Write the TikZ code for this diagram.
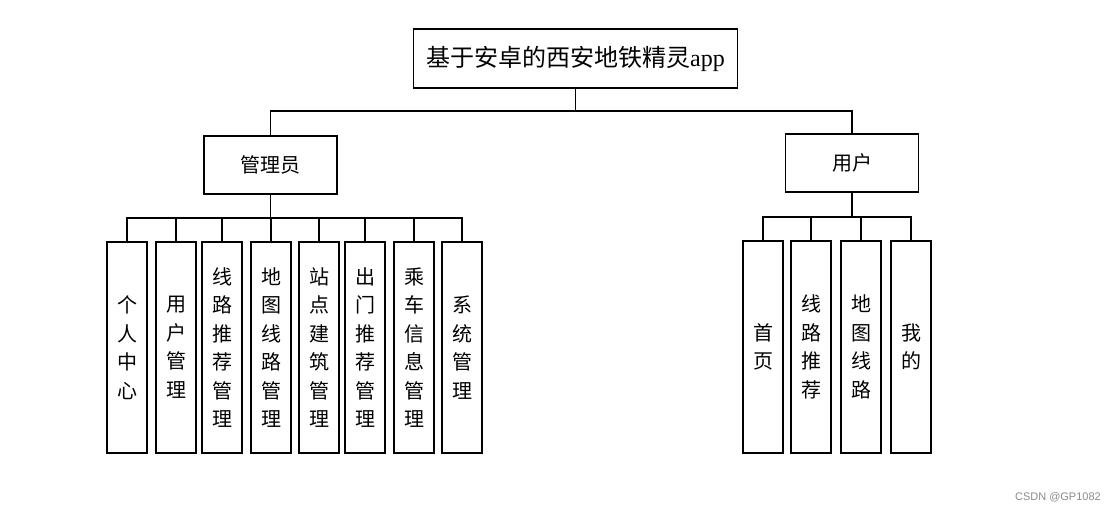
\documentclass[tikz,border=0pt]{standalone}
\usepackage{fontspec}
\setmainfont{Liberation Serif}
\newfontfamily\cjk{Noto Sans CJK SC}
\newfontfamily\wmfont{Liberation Sans}
\begin{document}
\begin{tikzpicture}[x=1pt,y=-1pt,
  box/.style={draw=black,line width=1.4pt,fill=white,inner sep=0pt,align=center},
  topbox/.style={box,minimum width=324pt,minimum height=59pt,font=\fontsize{24}{28}\selectfont},
  midbox/.style={box,minimum width=133pt,minimum height=58pt,font=\cjk\fontsize{20}{24}\selectfont},
  leafbox/.style={box,minimum width=40pt,minimum height=211pt,font=\cjk\fontsize{20}{28.5}\selectfont},
  conn/.style={draw=black,line width=1.4pt}]
\useasboundingbox (0,0) rectangle (1115,511);
\fill[white] (0,0) rectangle (1115,511);
% top
\node[topbox] (top) at (575.5,58.5) {{\cjk 基于安卓的西安地铁精灵}app};
\node[midbox] (admin) at (270.5,165) {管理员};
\node[midbox] (user) at (852,163) {用户};
% admin leaves
\node[leafbox] (a1) at (127,347.5) {个\\人\\中\\心};
\node[leafbox] (a2) at (176,347.5) {用\\户\\管\\理};
\node[leafbox] (a3) at (222,347.5) {线\\路\\推\\荐\\管\\理};
\node[leafbox] (a4) at (271,347.5) {地\\图\\线\\路\\管\\理};
\node[leafbox] (a5) at (319,347.5) {站\\点\\建\\筑\\管\\理};
\node[leafbox] (a6) at (365,347.5) {出\\门\\推\\荐\\管\\理};
\node[leafbox] (a7) at (414,347.5) {乘\\车\\信\\息\\管\\理};
\node[leafbox] (a8) at (462,347.5) {系\\统\\管\\理};
% user leaves
\node[leafbox,minimum height=212pt] (u1) at (763,347) {首\\页};
\node[leafbox,minimum height=212pt] (u2) at (811,347) {线\\路\\推\\荐};
\node[leafbox,minimum height=212pt] (u3) at (861,347) {地\\图\\线\\路};
\node[leafbox,minimum height=212pt] (u4) at (911,347) {我\\的};
% buses
\coordinate (b0) at (575.5,111);
\coordinate (ab) at (270.5,218);
\coordinate (ub) at (852,217);
\draw[conn] (top.south) -- (b0);
\draw[conn] (admin.north) |- (b0);
\draw[conn] (user.north) |- (b0);
\draw[conn] (admin.south) -- (ab);
\foreach \c in {a1,a2,a3,a4,a5,a6,a7,a8} {\draw[conn] (\c.north) |- (ab);}
\draw[conn] (user.south) -- (ub);
\foreach \c in {u1,u2,u3,u4} {\draw[conn] (\c.north) |- (ub);}
% watermark
\node[anchor=east,text=black!45,font=\wmfont\fontsize{11}{13}\selectfont,inner sep=0pt] (wm) at (1101,497) {CSDN @GP1082};
\end{tikzpicture}
\end{document}
